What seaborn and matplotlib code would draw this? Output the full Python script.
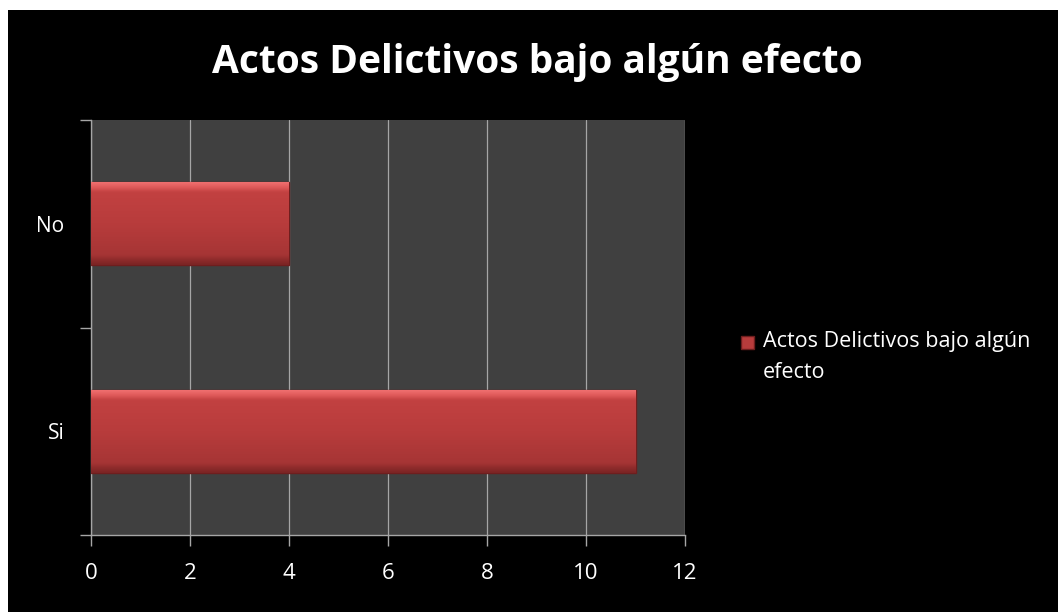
import numpy as np
import pandas as pd
import matplotlib
matplotlib.use("Agg")
import matplotlib.pyplot as plt
import seaborn as sns
from matplotlib.patches import Rectangle, Patch
from matplotlib.legend_handler import HandlerPatch

categories = ["No", "Si"]
values = [4, 11]
series_name = "Actos Delictivos bajo algún efecto"
x_ticks = [0, 2, 4, 6, 8, 10, 12]

df = pd.DataFrame({"respuesta": categories, "cantidad": values})

sns.set_style("dark")
plt.rcParams["font.family"] = ["Open Sans", "DejaVu Sans"]

fig = plt.figure(figsize=(10.58, 6.12), dpi=100, facecolor="white")
# black slide background with the thin white margin at top and left
fig.patches.append(Rectangle((8 / 1058, 0), 1, 1 - 10 / 612, transform=fig.transFigure,
                             facecolor="black", edgecolor="none", zorder=-10))

ax = fig.add_axes([91 / 1058, 1 - 535 / 612, 594 / 1058, 415 / 612])
ax.set_facecolor("#404040")

sns.barplot(data=df, x="cantidad", y="respuesta", order=categories, orient="h",
            width=0.4, color="#b83c3c", edgecolor="#6e1e1e", linewidth=1, ax=ax, zorder=3)

# bevel-like vertical gradient inside each bar
grad = np.linspace(0, 1, 256).reshape(-1, 1)
cmap = matplotlib.colors.LinearSegmentedColormap.from_list(
    "bevel", [(0.0, "#f07070"), (0.06, "#e05a5a"), (0.12, "#c24141"),
              (0.5, "#b83c3c"), (0.88, "#a63535"), (0.94, "#8e2b2b"), (1.0, "#7a2424")])
for bar in list(ax.patches):
    x0, y0 = bar.get_x(), bar.get_y()
    w, h = bar.get_width(), bar.get_height()
    im = ax.imshow(grad, cmap=cmap, aspect="auto", extent=(x0, x0 + w, y0 + h, y0),
                   zorder=3.5, interpolation="bicubic")
    im.set_clip_path(bar)

ax.set_xlim(0, 12)
ax.set_ylim(1.5, -0.5)
ax.set_xticks(x_ticks)
ax.set_xticklabels([str(t) for t in x_ticks])
ax.xaxis.grid(True, color="#a6a6a6", linewidth=0.9)
ax.yaxis.grid(False)
ax.set_axisbelow(True)

ax.set_yticks([0, 1])
ax.set_yticklabels(categories)
ax.set_yticks([-0.5, 0.5, 1.5], minor=True)
ax.tick_params(axis="y", which="major", length=0, pad=19, labelsize=15, colors="white")
ax.tick_params(axis="y", which="minor", length=8, width=1, color="#a6a6a6", left=True)
ax.tick_params(axis="x", length=8, width=1, color="#a6a6a6", bottom=True, pad=12,
               labelsize=16, labelcolor="white")

for side in ["top", "right"]:
    ax.spines[side].set_visible(False)
for side in ["left", "bottom"]:
    ax.spines[side].set_visible(True)
    ax.spines[side].set_color("#a6a6a6")
    ax.spines[side].set_linewidth(1)

ax.set_xlabel("")
ax.set_ylabel("")

fig.text(537 / 1058, 1 - 62 / 612, series_name, ha="center", va="center",
         color="white", fontsize=28, fontweight="bold")


def top_square(legend, orig_handle, xdescent, ydescent, width, height, fontsize):
    s = width
    return Rectangle((-xdescent, -ydescent + height - s - 0.02 * fontsize), s, s)


handle = Patch(facecolor="#b83c3c", edgecolor="#6e1e1e")
leg = fig.legend([handle], ["Actos Delictivos bajo algún\nefecto"], loc="upper left",
                 bbox_to_anchor=(722 / 1058, 1 - 312 / 612), frameon=False,
                 fontsize=15.5, handlelength=0.6, handleheight=2.9, handletextpad=0.4,
                 labelcolor="white",
                 handler_map={Patch: HandlerPatch(patch_func=top_square)})
for t in leg.get_texts():
    t.set_linespacing(1.6)

fig.savefig("out.png", dpi=100, facecolor=fig.get_facecolor())
